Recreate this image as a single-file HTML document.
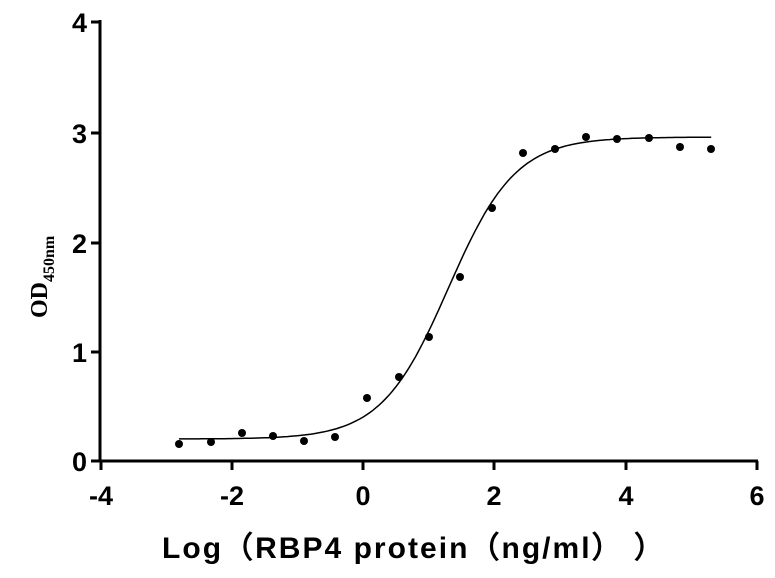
<!DOCTYPE html>
<html><head><meta charset="utf-8"><style>
body{margin:0;background:#fff;width:775px;height:573px;overflow:hidden}
text{font-family:"Liberation Sans",Arial,sans-serif;font-weight:bold;fill:#000}
</style></head><body>
<svg id="s" width="775" height="573" viewBox="0 0 775 573" xmlns="http://www.w3.org/2000/svg">
<g stroke="#000" stroke-width="3" fill="none">
<line x1="100" y1="20" x2="100" y2="462"/>
<line x1="99" y1="461" x2="758" y2="461"/>
<line x1="91" y1="22" x2="100" y2="22"/>
<line x1="91" y1="133" x2="100" y2="133"/>
<line x1="91" y1="243" x2="100" y2="243"/>
<line x1="91" y1="352" x2="100" y2="352"/>
<line x1="91" y1="461" x2="100" y2="461"/>
<line x1="101" y1="461" x2="101" y2="470"/>
<line x1="232" y1="461" x2="232" y2="470"/>
<line x1="363" y1="461" x2="363" y2="470"/>
<line x1="494" y1="461" x2="494" y2="470"/>
<line x1="626" y1="461" x2="626" y2="470"/>
<line x1="757" y1="461" x2="757" y2="470"/>
</g>
<g font-size="27" text-anchor="end">
<text x="87" y="32">4</text><text x="87" y="143">3</text><text x="87" y="253">2</text><text x="87" y="362">1</text><text x="87" y="471">0</text>
</g>
<g font-size="27" text-anchor="middle">
<text x="101" y="505">-4</text><text x="232" y="505">-2</text><text x="363" y="505">0</text><text x="494" y="505">2</text><text x="626" y="505">4</text><text x="757" y="505">6</text>
</g>
<text x="162" y="558" font-size="30" textLength="502" lengthAdjust="spacing">Log（RBP4 protein（ng/ml）  ）</text>
<text transform="translate(47,318) rotate(-90)" font-size="24" style="font-family:'Liberation Serif',serif">OD<tspan font-size="16" dy="7">450nm</tspan></text>
<path id="c" fill="none" stroke="#000" stroke-width="1.5"/>
<g id="d" fill="#000"></g>
</svg>
<script>
function X(v){return 363+v*65.7}
function Y(v){return 461-v*109.8}
var d="";
for(var x=-2.8;x<=5.31;x+=0.05){var y=0.2+2.75/(1+Math.pow(10,(1.3-x)*0.85));d+=(d?"L":"M")+X(x).toFixed(1)+" "+Y(y).toFixed(1);}
document.getElementById("c").setAttribute("d",d);
var px=[179,211,242,273,304,335,367,399,429,460,492,523,555,586,617,649,680,711];
var py=[444,442,433,436,441,437,398,377,337,277,208,153,149,137,139,138,147,149];
var g=document.getElementById("d"),h="";
for(var i=0;i<px.length;i++)h+='<circle cx="'+px[i]+'" cy="'+py[i]+'" r="4"/>';
g.innerHTML=h;
</script>
</body></html>
